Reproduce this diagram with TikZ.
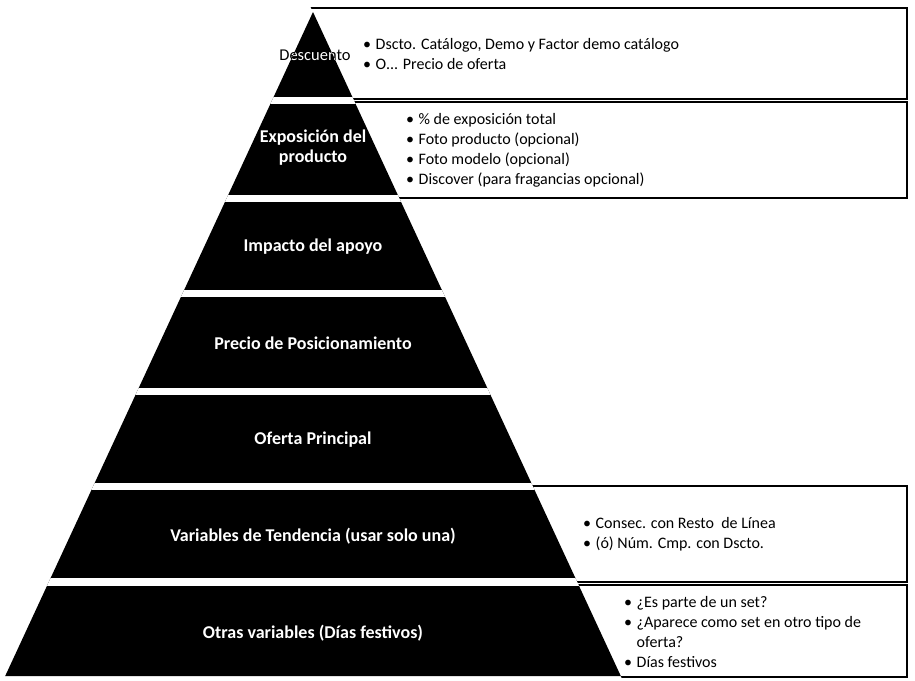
\documentclass[tikz,border=0pt]{standalone}
\usepackage{fontspec}
\setmainfont{Carlito}
\begin{document}
\begin{tikzpicture}[x=1pt,y=-1pt,
  infobox/.style={line width=2.6pt,draw=black},
  bullettext/.style={anchor=west,inner sep=0pt,font=\fontsize{16}{20}\selectfont,align=left},
  lvllabel/.style={text=white,font=\fontsize{18}{20}\selectfont\bfseries,align=center,inner sep=0pt}]
\useasboundingbox (0,0) rectangle (915,680);
% boxes, clipped on the right side of the pyramid slope
\begin{scope}
  \clip (307.4,0) -- (915,0) -- (915,680) -- (622.6,680) -- cycle;
  \draw[infobox] (290,8) rectangle (907,99);
  \draw[infobox] (290,102) rectangle (907,198);
  \draw[infobox] (290,486) rectangle (907,582);
  \draw[infobox] (290,585) rectangle (907,677);
\end{scope}
% pyramid
\fill[black] (313,12) -- (5.2,676) -- (620.8,676) -- cycle;
\begin{scope}
  \clip (313,12) -- (5.2,676) -- (620.8,676) -- cycle;
  \foreach \ya/\yb in {97/104,195/202,290/297,388/395,483/490,578/586}
    \fill[white] (0,\ya) rectangle (915,\yb);
\end{scope}
% labels
\node[lvllabel,text=black,font=\fontsize{16.5}{19}\selectfont] (descB) at (315,55) {Descuento};
\begin{scope}
  \clip (313,12) -- (273.6,97) -- (352.4,97) -- cycle;
  \node[lvllabel,font=\fontsize{16.5}{19}\selectfont] (desc) at (315,55) {Descuento};
\end{scope}
\node[lvllabel] (expo) at (313,148) {Exposición del\\producto};
\node[lvllabel] (impa) at (313,247) {Impacto del apoyo};
\node[lvllabel] (prec) at (313,343) {Precio de Posicionamiento};
\node[lvllabel] (ofer) at (313,440) {Oferta Principal};
\node[lvllabel] (vari) at (313,536) {Variables de Tendencia (usar solo una)};
\node[lvllabel] (otra) at (313,633) {Otras variables (Días festivos)};
% bullet texts
\node[bullettext] (t1) at (363,55) {\begin{tabular}{@{}l@{\hspace{4.5pt}}l@{}}
•&Dscto. Catálogo, Demo y Factor demo catálogo\\
•&O... Precio de oferta\end{tabular}};
\node[bullettext] (t2) at (406,150) {\begin{tabular}{@{}l@{\hspace{4.5pt}}l@{}}
•&\% de exposición total\\
•&Foto producto (opcional)\\
•&Foto modelo (opcional)\\
•&Discover (para fragancias opcional)\end{tabular}};
\node[bullettext] (t3) at (583,534) {\begin{tabular}{@{}l@{\hspace{4.5pt}}l@{}}
•&Consec. con Resto\ \ de Línea\\
•&(ó) Núm. Cmp. con Dscto.\end{tabular}};
\node[bullettext] (t4) at (624,633) {\begin{tabular}{@{}l@{\hspace{4.5pt}}l@{}}
•&¿Es parte de un set?\\
•&¿Aparece como set en otro tipo de\\
&oferta?\\
•&Días festivos\end{tabular}};
\end{tikzpicture}
\end{document}
